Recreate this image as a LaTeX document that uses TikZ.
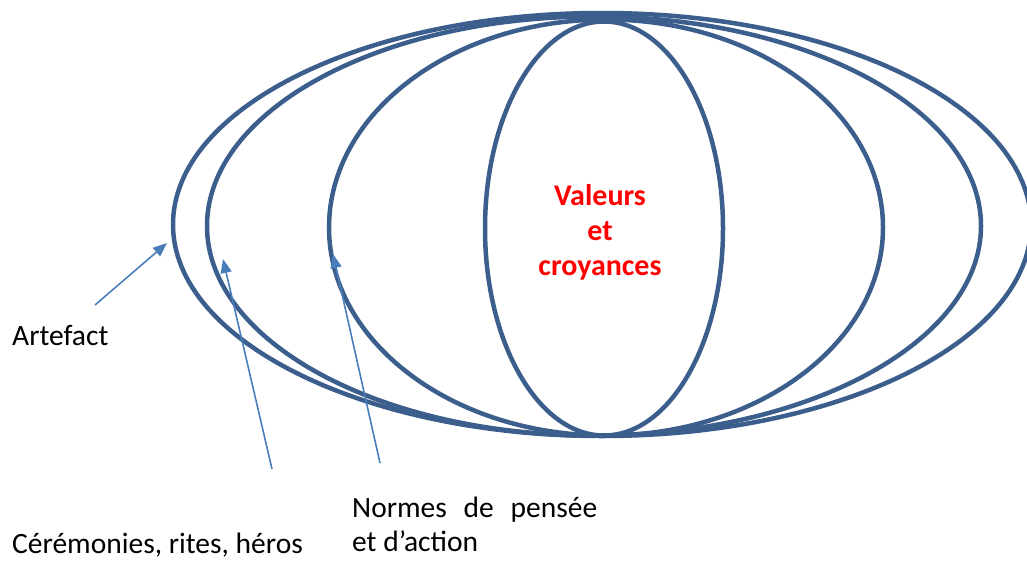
\documentclass[tikz,border=0pt]{standalone}
\usepackage{fontspec}
\setmainfont{Carlito}
\usetikzlibrary{arrows.meta}

\definecolor{ringblue}{HTML}{3B5E8C}
\definecolor{arrowblue}{HTML}{4A7EBB}

\tikzset{
  ring/.style={ringblue, line width=4.5pt},
  pointer/.style={arrowblue, line width=1.6pt, -{Triangle[length=14pt,width=11pt]}},
  label text/.style={inner sep=0pt, font=\fontsize{29.5}{34}\selectfont},
}

\begin{document}
\begin{tikzpicture}[x=1pt,y=-1pt]
\useasboundingbox (0,0) rectangle (1027,560);
% the four levels, all resting on the same bottom point
\draw [ring] (602,224.5) ellipse [x radius=429, y radius=211.5];
\draw [ring] (594,226) ellipse [x radius=387, y radius=209.5];
\draw [ring] (606,227.5) ellipse [x radius=277, y radius=208];
\draw [ring] (604,228.5) ellipse [x radius=119, y radius=207];
% labels
\node [label text, red, font=\fontsize{30}{35}\selectfont\bfseries, align=center] (valeurs) at (600,232) {Valeurs\\et\\croyances};
\node [label text, anchor=base west] (artefact) at (12,345) {Artefact};
\node [label text, anchor=base west] (ceremonies) at (12,553) {Cérémonies, rites, héros};
\node [label text, anchor=north west, align=left] (normes) at (352,497) {\makebox[245pt][s]{Normes de pensée}\\et d’action};
% arrows
\coordinate (artefact tail) at (95,305);
\coordinate (artefact tip) at (167,243);
\coordinate (ceremonies tail) at (272,469);
\coordinate (ceremonies tip) at (223,259);
\coordinate (normes tail) at (380,463);
\coordinate (normes tip) at (333,254);
\draw [pointer] (artefact tail) -- (artefact tip);
\draw [pointer] (ceremonies tail) -- (ceremonies tip);
\draw [pointer] (normes tail) -- (normes tip);
\end{tikzpicture}
\end{document}
